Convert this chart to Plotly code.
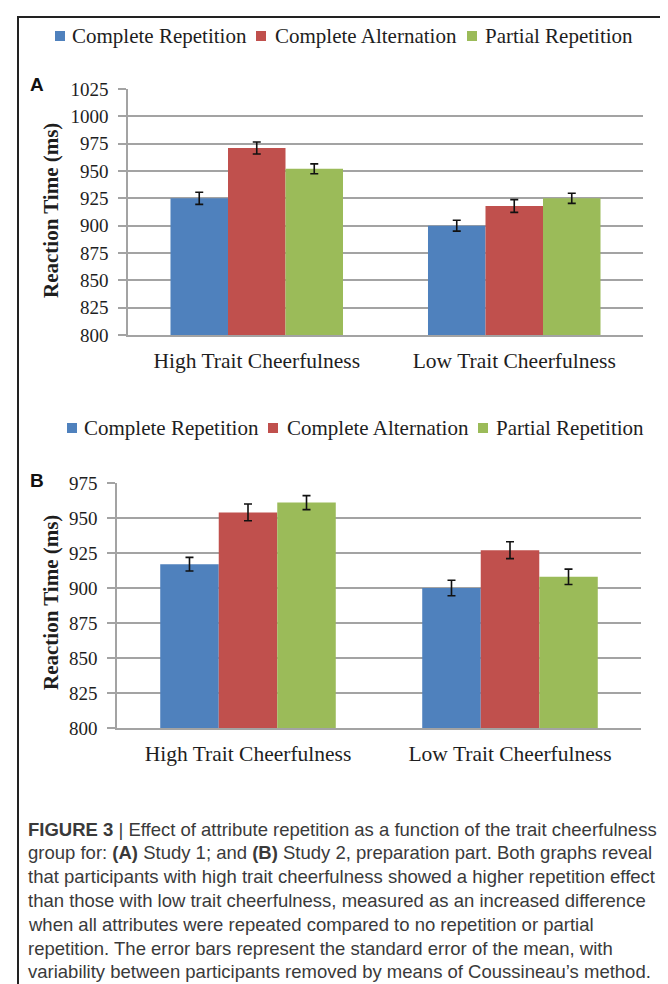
import plotly.graph_objects as go

# page offset: the browser body adds an 8px margin
OFF = 8
W, H = 668 - OFF, 984 - OFF

categories = ["High Trait Cheerfulness", "Low Trait Cheerfulness"]
series_names = ["Complete Repetition", "Complete Alternation", "Partial Repetition"]
colors = ["#4F81BD", "#C0504D", "#9BBB59"]

# Study 1 (panel A)
a_rep = [925, 900]
a_alt = [971, 918]
a_par = [952, 925]
a_rep_err = [5.5, 5]
a_alt_err = [5.5, 5.8]
a_par_err = [4.5, 4.6]

# Study 2 (panel B)
b_rep = [917, 900]
b_alt = [954, 927]
b_par = [961, 908]
b_rep_err = [4.9, 5.5]
b_alt_err = [6, 6]
b_par_err = [5, 5.5]

a_ticks = [800, 825, 850, 875, 900, 925, 950, 975, 1000, 1025]
b_ticks = [800, 825, 850, 875, 900, 925, 950, 975]

caption_lines = [
    "<b>FIGURE 3</b> | Effect of attribute repetition as a function of the trait cheerfulness",
    "group for: <b>(A)</b> Study 1; and <b>(B)</b> Study 2, preparation part. Both graphs reveal",
    "that participants with high trait cheerfulness showed a higher repetition effect",
    "than those with low trait cheerfulness, measured as an increased difference",
    "when all attributes were repeated compared to no repetition or partial",
    "repetition. The error bars represent the standard error of the mean, with",
    "variability between participants removed by means of Coussineau\u2019s method.",
]

SERIF = "Liberation Serif, Times New Roman, serif"
SANS = "Liberation Sans, Arial, sans-serif"
GRID = "#a3a3a3"
TXT = "#1e1e1e"


def px_x(p):
    return (p - OFF) / W


def px_y(p):
    return 1 - (p - OFF) / H


fig = go.Figure()

a_vals = [a_rep, a_alt, a_par]
a_errs = [a_rep_err, a_alt_err, a_par_err]
b_vals = [b_rep, b_alt, b_par]
b_errs = [b_rep_err, b_alt_err, b_par_err]

for name, col, v, e in zip(series_names, colors, a_vals, a_errs):
    fig.add_trace(go.Bar(
        x=categories, y=v, name=name, marker=dict(color=col, line=dict(width=0)),
        error_y=dict(type="data", array=e, color="#111", thickness=1.6, width=4),
        xaxis="x", yaxis="y", showlegend=False,
    ))
for name, col, v, e in zip(series_names, colors, b_vals, b_errs):
    fig.add_trace(go.Bar(
        x=categories, y=v, name=name, marker=dict(color=col, line=dict(width=0)),
        error_y=dict(type="data", array=e, color="#111", thickness=1.6, width=4),
        xaxis="x2", yaxis="y2", showlegend=False,
    ))

common_y = dict(
    dtick=25, showgrid=True, gridcolor=GRID, gridwidth=1.5,
    showline=True, linecolor=GRID, linewidth=1.5,
    ticks="outside", ticklen=8, tickcolor=GRID, tickwidth=1.5,
    tickfont=dict(family=SERIF, size=19, color=TXT),
    zeroline=False, ticklabelstandoff=6,
)
common_x = dict(
    showline=True, linecolor=GRID, linewidth=1.5, ticks="",
    tickfont=dict(family=SERIF, size=21.5, color=TXT),
    showgrid=False, zeroline=False, ticklabelstandoff=5,
)

fig.update_layout(
    width=W, height=H,
    margin=dict(l=0, r=0, t=0, b=0, autoexpand=False),
    paper_bgcolor="white", plot_bgcolor="white",
    barmode="group", bargap=0.33, bargroupgap=0,
    xaxis=dict(domain=[px_x(128), px_x(643)], anchor="y", **common_x),
    yaxis=dict(domain=[px_y(335), px_y(89)], anchor="x", range=[800, 1025],
               tickvals=a_ticks, **common_y),
    xaxis2=dict(domain=[px_x(117), px_x(641)], anchor="y2", **common_x),
    yaxis2=dict(domain=[px_y(728), px_y(483)], anchor="x2", range=[800, 975],
                tickvals=b_ticks, **common_y),
    showlegend=False,
)

annotations = []
shapes = []

# frame (left and top edges)
shapes.append(dict(type="line", xref="paper", yref="paper", layer="above",
                   x0=px_x(18), x1=px_x(18), y0=px_y(17), y1=px_y(984),
                   line=dict(color="#222222", width=2)))
shapes.append(dict(type="line", xref="paper", yref="paper", layer="above",
                   x0=px_x(17), x1=px_x(668), y0=px_y(17), y1=px_y(17),
                   line=dict(color="#222222", width=2)))

# legends (key squares + labels) for both panels
legend_rows = [
    (36, [55, 256, 467], [70, 273, 483]),
    (428, [67, 268, 478], [82, 285, 494]),
]
for yc, sq_x, tx_x in legend_rows:
    for name, col, sx, tx in zip(series_names, colors, sq_x, tx_x):
        shapes.append(dict(
            type="rect", xref="paper", yref="paper",
            x0=px_x(sx), x1=px_x(sx + 10), y0=px_y(yc + 5), y1=px_y(yc - 5),
            fillcolor=col, line=dict(width=0),
        ))
        annotations.append(dict(
            text=name, x=px_x(tx), y=px_y(yc), xref="paper", yref="paper",
            showarrow=False, xanchor="left", yanchor="middle",
            font=dict(family=SERIF, size=21, color=TXT),
        ))

# axis titles
for yc in (211, 603):
    annotations.append(dict(
        text="<b>Reaction Time (ms)</b>", x=px_x(51), y=px_y(yc), xref="paper", yref="paper",
        textangle=-90, showarrow=False, xanchor="center", yanchor="middle",
        font=dict(family=SERIF, size=21, color=TXT),
    ))
# panel labels
for lab, yc in (("A", 84), ("B", 480)):
    annotations.append(dict(
        text="<b>%s</b>" % lab, x=px_x(37), y=px_y(yc), xref="paper", yref="paper",
        showarrow=False, xanchor="center", yanchor="middle",
        font=dict(family=SANS, size=19, color="#111"),
    ))
# caption
for i, line in enumerate(caption_lines):
    annotations.append(dict(
        text=line, x=px_x(26), y=px_y(829 + i * 23.8), xref="paper", yref="paper",
        showarrow=False, xanchor="left", yanchor="middle",
        font=dict(family=SANS, size=18.5, color="#3a3a3a"),
    ))

fig.update_layout(annotations=annotations, shapes=shapes)

fig.write_html("out.html")
